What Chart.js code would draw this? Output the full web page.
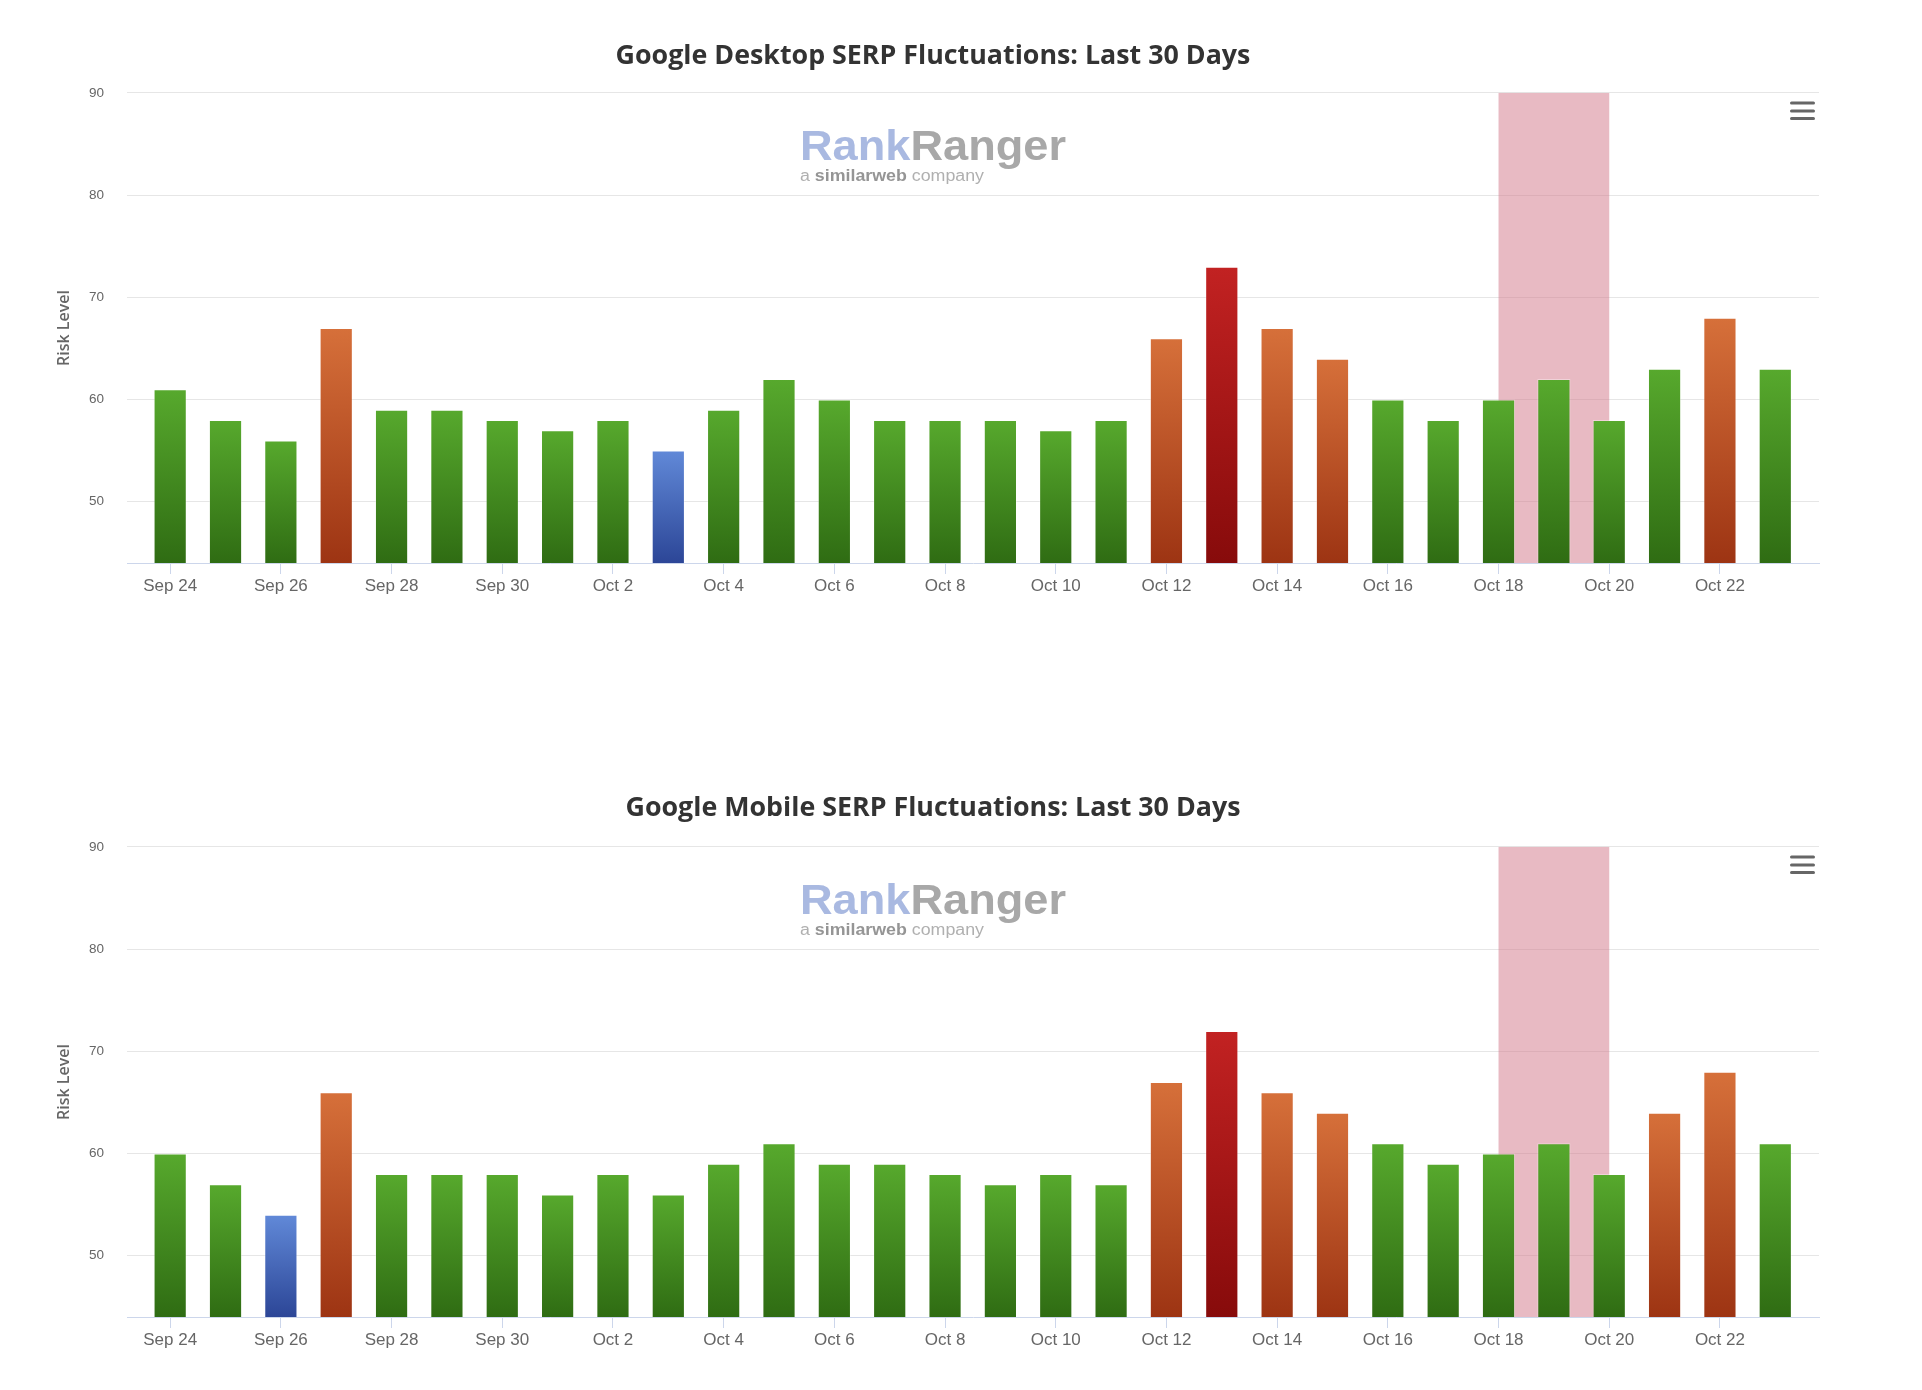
<!DOCTYPE html>
<html>
<head>
<meta charset="utf-8">
<title>Google SERP Fluctuations: Last 30 Days</title>
<script src="https://cdn.jsdelivr.net/npm/chart.js@4.4.1/dist/chart.umd.min.js"></script>
<style>
  body { margin: 0; background: #fff; }
  .box { position: absolute; left: 0; width: 1866px; height: 620px; }
</style>
</head>
<body>
<div class="box" style="top:0"><canvas id="desktopChart" width="1866" height="620"></canvas></div>
<div class="box" style="top:754px"><canvas id="mobileChart" width="1866" height="620"></canvas></div>
<script>
// dados
const days = ['Sep 24', 'Sep 25', 'Sep 26', 'Sep 27', 'Sep 28', 'Sep 29', 'Sep 30',
    'Oct 1', 'Oct 2', 'Oct 3', 'Oct 4', 'Oct 5', 'Oct 6', 'Oct 7', 'Oct 8', 'Oct 9',
    'Oct 10', 'Oct 11', 'Oct 12', 'Oct 13', 'Oct 14', 'Oct 15', 'Oct 16', 'Oct 17',
    'Oct 18', 'Oct 19', 'Oct 20', 'Oct 21', 'Oct 22', 'Oct 23'];
const tickDays = ['Sep 24', 'Sep 26', 'Sep 28', 'Sep 30', 'Oct 2', 'Oct 4', 'Oct 6',
    'Oct 8', 'Oct 10', 'Oct 12', 'Oct 14', 'Oct 16', 'Oct 18', 'Oct 20', 'Oct 22'];
const yTicks = [50, 60, 70, 80, 90];
const desktopRisk = [61, 58, 56, 67, 59, 59, 58, 57, 58, 55, 59, 62, 60, 58, 58,
    58, 57, 58, 66, 73, 67, 64, 60, 58, 60, 62, 58, 63, 68, 63];
const mobileRisk = [60, 57, 54, 66, 58, 58, 58, 56, 58, 56, 59, 61, 59, 59, 58,
    57, 58, 57, 67, 72, 66, 64, 61, 59, 60, 61, 58, 64, 68, 61];
const bandFrom = 'Oct 18';
const bandTo = 'Oct 20';

// cores por nível de risco (topo, base)
function riskShades(v) {
    if (v <= 55) return ['#6189d8', '#2c4697'];
    if (v <= 63) return ['#57a92d', '#2f6c13'];
    if (v <= 70) return ['#d6703a', '#9d3413'];
    return ['#c22222', '#870b0b'];
}

function drawFitted(ctx, parts, x, y, width) {
    // desenha pedaços de texto e ajusta na horizontal até a largura pedida
    let total = 0;
    parts.forEach(p => { ctx.font = p.font; total += ctx.measureText(p.text).width; });
    const sx = width / total;
    ctx.save();
    ctx.translate(x, y);
    ctx.scale(sx, 1);
    let cx = 0;
    parts.forEach(p => {
        ctx.font = p.font;
        ctx.fillStyle = p.color;
        ctx.fillText(p.text, cx, 0);
        cx += ctx.measureText(p.text).width;
    });
    ctx.restore();
}

const decor = {
    id: 'decor',
    beforeDatasetsDraw(chart) {
        const { ctx, chartArea: a, scales: { x } } = chart;
        const x1 = x.getPixelForValue(days.indexOf(bandFrom));
        const x2 = x.getPixelForValue(days.indexOf(bandTo));
        ctx.save();
        ctx.fillStyle = 'rgba(209,117,136,0.5)';
        ctx.fillRect(x1, a.top, x2 - x1, a.bottom - a.top);

        // marca d'água
        ctx.textBaseline = 'alphabetic';
        const left = chart.width / 2 - 133;
        drawFitted(ctx, [
            { text: 'Rank', font: 'bold 42px "Liberation Sans"', color: '#a9b9e1' },
            { text: 'Ranger', font: 'bold 42px "Liberation Sans"', color: '#a8a8a8' }
        ], left, a.top + 67, 266);
        drawFitted(ctx, [
            { text: 'a ', font: '16px "Liberation Sans"', color: '#b0b0b0' },
            { text: 'similarweb', font: 'bold 16px "Liberation Sans"', color: '#959595' },
            { text: ' company', font: '16px "Liberation Sans"', color: '#b0b0b0' }
        ], left, a.top + 88, 184);
        ctx.restore();
    },
    afterDraw(chart) {
        const { ctx, chartArea: a } = chart;
        ctx.save();
        ctx.strokeStyle = '#666';
        ctx.lineWidth = 3;
        ctx.lineCap = 'round';
        [10, 18, 25.5].forEach(dy => {
            ctx.beginPath();
            ctx.moveTo(a.right - 27.5, a.top + dy);
            ctx.lineTo(a.right - 5.5, a.top + dy);
            ctx.stroke();
        });
        ctx.restore();
    }
};

function makeChart(id, title, values, titleTop) {
    const ctx = document.getElementById(id).getContext('2d');
    return new Chart(ctx, {
        type: 'bar',
        data: {
            datasets: [{
                label: 'Risk Level',
                data: values.map((v, i) => ({ x: i, y: v })),
                backgroundColor: (c) => {
                    const chart = c.chart;
                    if (!chart.chartArea || c.parsed === undefined) return '#57a92d';
                    const shades = riskShades(c.parsed.y);
                    const top = chart.scales.y.getPixelForValue(c.parsed.y);
                    const g = chart.ctx.createLinearGradient(0, top, 0, chart.chartArea.bottom);
                    g.addColorStop(0, shades[0]);
                    g.addColorStop(1, shades[1]);
                    return g;
                },
                borderColor: 'rgba(255,255,255,0.35)',
                borderWidth: 1,
                borderSkipped: 'bottom',
                categoryPercentage: 1,
                barPercentage: 0.6,
            }],
        },
        options: {
            responsive: false,
            animation: false,
            events: [],
            layout: { padding: { left: 47, right: 47, top: 0, bottom: 0 } },
            plugins: {
                legend: { display: false },
                tooltip: { enabled: false },
                title: {
                    display: true,
                    text: title,
                    color: '#333333',
                    font: { family: '"Open Sans"', size: 26.8, weight: '700', lineHeight: 1.2 },
                    padding: { top: titleTop, bottom: 60.8 - titleTop },
                },
            },
            scales: {
                x: {
                    type: 'linear',
                    min: -0.78,
                    max: 29.79,
                    offset: false,
                    afterBuildTicks: (s) => { s.ticks = tickDays.map(d => ({ value: days.indexOf(d) })); },
                    afterFit: (s) => { s.height = 57; },
                    ticks: {
                        callback: (v) => days[v],
                        color: '#666666',
                        font: { family: '"Liberation Sans"', size: 17 },
                        padding: 2,
                        maxRotation: 0,
                        autoSkip: false,
                    },
                    grid: {
                        display: true,
                        drawOnChartArea: false,
                        drawTicks: true,
                        tickLength: 11,
                        tickColor: '#ccd6eb',
                        offset: false,
                    },
                    border: { display: true, color: '#ccd6eb', width: 1 },
                },
                y: {
                    min: 44,
                    max: 90,
                    afterBuildTicks: (s) => { s.ticks = yTicks.map(v => ({ value: v })); },
                    afterFit: (s) => { s.width = 80; },
                    ticks: {
                        color: '#666666',
                        font: { family: '"Liberation Sans"', size: 13.5 },
                        padding: 23,
                    },
                    grid: { color: '#e6e6e6', lineWidth: 1, drawTicks: false },
                    border: { display: false },
                    title: {
                        display: true,
                        text: 'Risk Level',
                        color: '#666666',
                        font: { family: '"Open Sans"', size: 16, weight: '600' },
                        padding: { top: 8, bottom: 0 },
                    },
                },
            },
        },
        plugins: [decor],
    });
}

makeChart('desktopChart', 'Google Desktop SERP Fluctuations: Last 30 Days', desktopRisk, 40.5);
makeChart('mobileChart', 'Google Mobile SERP Fluctuations: Last 30 Days', mobileRisk, 38);
</script>
</body>
</html>
